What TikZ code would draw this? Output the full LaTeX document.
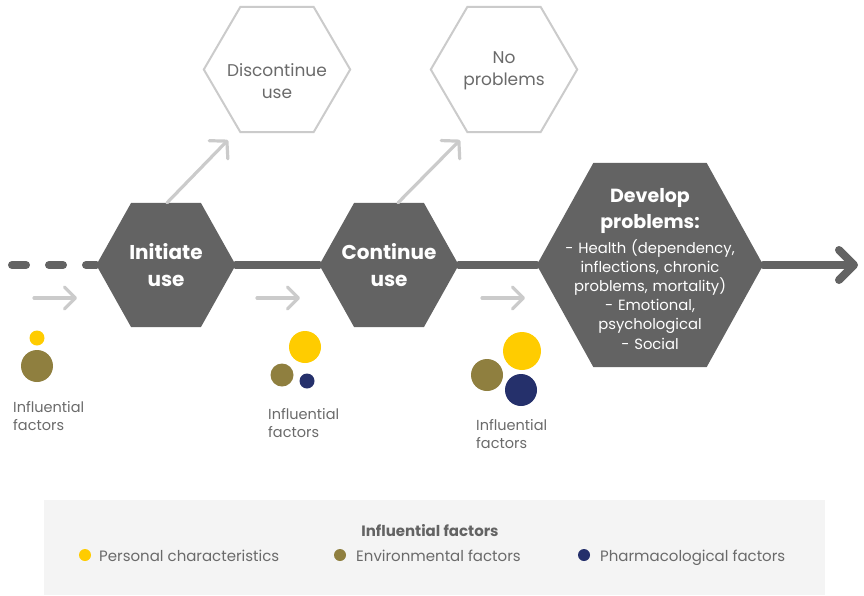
\documentclass[tikz,border=0pt]{standalone}
\usepackage{fontspec}
\setmainfont{Poppins}
\usetikzlibrary{arrows.meta,calc,backgrounds}
\definecolor{dk}{HTML}{636363}
\definecolor{lg}{HTML}{CBCBCB}
\definecolor{tg}{HTML}{6A6A6A}
\definecolor{yel}{HTML}{FFCC00}
\definecolor{oli}{HTML}{8F7F3F}
\definecolor{nav}{HTML}{25306B}
\definecolor{legbg}{HTML}{F4F4F4}
\newcommand\hexof[1]{(#1.west) -- ($(#1.north west)!.25!(#1.north east)$) -- ($(#1.north west)!.75!(#1.north east)$) -- (#1.east) -- ($(#1.south west)!.75!(#1.south east)$) -- ($(#1.south west)!.25!(#1.south east)$) -- cycle}
\tikzset{
  hexbox/.style={rectangle,inner sep=0pt,align=center},
  darkhex/.style={hexbox,text=white,font=\bfseries\fontsize{20}{27}\selectfont,minimum width=139pt,minimum height=124pt},
  lighthex/.style={hexbox,text=tg,font=\fontsize{17}{22}\selectfont,minimum width=146pt,minimum height=125pt},
  mainline/.style={dk,line width=8pt,line cap=round},
  grayarrow/.style={lg,line width=3.2pt,line cap=round,-{Straight Barb[length=12pt,width=26pt,round]}},
  smallarrow/.style={lg,line width=3.2pt,line cap=round,-{Straight Barb[length=11pt,width=22pt,round]}},
  dot/.style={circle,inner sep=0pt,minimum size=#1},
  inflabel/.style={anchor=north west,align=left,text=tg,font=\fontsize{14.5}{18}\selectfont,inner sep=0pt},
  legtext/.style={anchor=base west,text=tg,font=\fontsize{15}{18}\selectfont,inner sep=0pt},
}
\begin{document}
\begin{tikzpicture}[x=1pt,y=-1pt]
\useasboundingbox (0,0) rectangle (864,595);
% hexagon boxes
\node[darkhex] (init) at (166,265) {Initiate\\use};
\node[darkhex] (cont) at (389,265) {Continue\\use};
\node[hexbox,minimum width=226pt,minimum height=204pt] (dev) at (650,265) {};
\node[text=white,inner sep=0pt,align=center,text width=220pt,font=\fontsize{14.8}{19.2}\selectfont] (devtext) at (650,269)
 {{\bfseries\fontsize{19}{26}\selectfont Develop\\problems:\par}\vspace{5pt}
  \fontsize{14.8}{19.2}\selectfont - Health (dependency,\\inflections, chronic\\problems, mortality)\\- Emotional,\\psychological\\- Social\par};
\node[lighthex,text=tg] (disc) at (277,69.5) {};
\node[text=tg,font=\fontsize{17}{22}\selectfont,align=center] (disctext) at (277,81) {Discontinue\\use};
\node[lighthex] (nop) at (504,69.5) {};
\node[text=tg,font=\fontsize{17}{22}\selectfont,align=center] (noptext) at (504,71) {No\\problems};
\begin{scope}[on background layer]
\fill[dk] \hexof{init};
\fill[dk] \hexof{cont};
\fill[dk] \hexof{dev};
\draw[lg,line width=2pt] \hexof{disc};
\draw[lg,line width=2pt] \hexof{nop};
\end{scope}
% main line
\coordinate (start) at (12,265);
\coordinate (finish) at (858,265);
\draw[mainline,dash pattern=on 14pt off 23pt] (start) -- (init.west);
\draw[mainline] (init.east) -- (cont.west);
\draw[mainline] (cont.east) -- (dev.west);
\draw[mainline,-{Straight Barb[length=15pt,width=30pt,round]}] (dev.east) -- (finish);
% diagonal arrows
\coordinate (d1) at (228,140);
\coordinate (d2) at (460,140);
\draw[grayarrow] ([xshift=1pt]init.north) -- (d1);
\draw[grayarrow] ([xshift=9pt]cont.north) -- (d2);
% small arrows
\coordinate (s1a) at (34,298); \coordinate (s1b) at (77,298);
\coordinate (s2a) at (257,298); \coordinate (s2b) at (300,298);
\coordinate (s3a) at (482,298); \coordinate (s3b) at (525,298);
\draw[smallarrow] (s1a) -- (s1b);
\draw[smallarrow] (s2a) -- (s2b);
\draw[smallarrow] (s3a) -- (s3b);
% factor circles
\node[dot=15pt,fill=yel] (y1) at (37,338) {};
\node[dot=32pt,fill=oli] (o1) at (37,366) {};
\node[dot=32pt,fill=yel] (y2) at (305,347) {};
\node[dot=23pt,fill=oli] (o2) at (282,375) {};
\node[dot=15pt,fill=nav] (n2) at (307,381) {};
\node[dot=38pt,fill=yel] (y3) at (522,351) {};
\node[dot=32pt,fill=oli] (o3) at (487,375) {};
\node[dot=32pt,fill=nav] (n3) at (521,390) {};
\node[inflabel] (l1) at (13,401) {Influential\\factors};
\node[inflabel] (l2) at (268,408) {Influential\\factors};
\node[inflabel] (l3) at (476,419) {Influential\\factors};
% legend
\node[fill=legbg,inner sep=0pt,minimum width=781pt,minimum height=95pt] (legend) at (434.5,547.5) {};
\node[text=dk,font=\bfseries\fontsize{15}{18}\selectfont] (legtitle) at (430,531) {Influential factors};
\node[dot=12pt,fill=yel] (ly) at (85,555) {};
\node[legtext] (lyt) at (99,561) {Personal characteristics};
\node[dot=12pt,fill=oli] (lo) at (340,555) {};
\node[legtext] (lot) at (356,561) {Environmental factors};
\node[dot=12pt,fill=nav] (ln) at (584,555) {};
\node[legtext] (lnt) at (600,561) {Pharmacological factors};
\end{tikzpicture}
\end{document}
